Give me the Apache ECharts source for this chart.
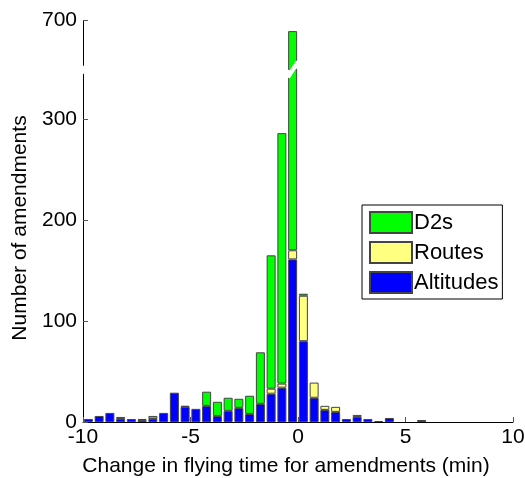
<!DOCTYPE html>
<html>
<head>
<meta charset="utf-8">
<script src="https://cdn.jsdelivr.net/npm/echarts@6/dist/echarts.min.js"></script>
<style>
  html, body { margin: 0; padding: 0; background: #fff; }
  #chart { width: 525px; height: 478px; }
</style>
</head>
<body>
<div id="chart"></div>
<script>
// bin centres (0.5 min bins from -10 to 10)
var binCenters = [-9.75, -9.25, -8.75, -8.25, -7.75, -7.25, -6.75, -6.25, -5.75, -5.25,
  -4.75, -4.25, -3.75, -3.25, -2.75, -2.25, -1.75, -1.25, -0.75, -0.25,
  0.25, 0.75, 1.25, 1.75, 2.25, 2.75, 3.25, 3.75, 4.25, 4.75,
  5.25, 5.75, 6.25, 6.75, 7.25, 7.75, 8.25, 8.75, 9.25, 9.75]
var altitudes = [3, 6, 9, 3, 3, 2, 3, 9, 29, 15,
  13, 16, 6, 11, 14, 8, 18, 28, 34, 161,
  80, 24, 12, 10, 3, 5, 3, 1, 4, 0,
  0, 2, 0, 0, 0, 0, 0, 0, 0, 0]
var routes = [0, 0, 0, 0, 0, 0, 0, 0, 0, 0,
  0, 0, 0, 0, 0, 0, 0, 5, 4, 9,
  45, 15, 4, 5, 0, 2, 0, 0, 0, 0,
  0, 0, 0, 0, 0, 0, 0, 0, 0, 0]
var d2s = [0, 0, 0, 2, 0, 1, 3, 0, 0, 1,
  0, 14, 14, 13, 9, 18, 51, 132, 248, 519,
  2, 0, 0, 0, 0, 0, 0, 0, 0, 0,
  0, 0, 0, 0, 0, 0, 0, 0, 0, 0]
var yTicks = [0, 100, 200, 300, 700]
var xTicks = [-10, -5, 0, 5, 10]

var font = 'Arial, "Liberation Sans", sans-serif'

function barSeries (name, vals, color) {
  return {
    name: name,
    type: 'bar',
    stack: 'total',
    xAxisIndex: 0,
    barWidth: 9,
    itemStyle: {
      color: color,
      borderColor: '#444',
      borderWidth: 1
    },
    data: vals.map(function (v) { return v === 0 ? '-' : v })
  }
}

var chart = echarts.init(document.getElementById('chart'))
chart.setOption({
  animation: false,
  grid: {
    left: 83,
    right: 12,
    top: 20,
    bottom: 56,
    outerBoundsMode: 'none'
  },
  legend: {
    orient: 'vertical',
    left: 362,
    top: 205,
    data: ['D2s', 'Routes', 'Altitudes'],
    icon: 'rect',
    itemWidth: 42,
    itemHeight: 21,
    itemGap: 7,
    padding: [6, 4, 5, 7],
    borderColor: '#000',
    borderWidth: 1,
    backgroundColor: '#fff',
    textStyle: {
      color: '#000',
      fontSize: 22,
      fontFamily: font,
      padding: [0, 0, 0, -3]
    }
  },
  xAxis: [{
    // bins, carries the bars
    type: 'category',
    data: binCenters,
    boundaryGap: true,
    show: false
  }, {
    // time scale, carries ticks and labels
    type: 'value',
    position: 'bottom',
    min: -10,
    max: 10,
    interval: 5,
    name: 'Change in flying time for amendments (min)',
    nameLocation: 'middle',
    nameGap: 34,
    nameTextStyle: {
      color: '#000',
      fontSize: 21,
      fontFamily: font,
      padding: [0, 24, 0, 0]
    },
    axisLine: { show: true, onZero: false, lineStyle: { color: '#000' } },
    axisTick: { show: true, inside: true, length: 5, lineStyle: { color: '#555' }, customValues: xTicks },
    axisLabel: { color: '#000', fontSize: 21, fontFamily: font, margin: 5, customValues: xTicks },
    splitLine: { show: false }
  }],
  yAxis: {
    type: 'value',
    min: 0,
    max: 700,
    breaks: [{ start: 345, end: 655, gap: 8 }],
    breakArea: {
      show: true,
      itemStyle: { color: '#fff', borderWidth: 0, opacity: 1 },
      zigzagAmplitude: 5
    },
    name: 'Number of amendments',
    nameLocation: 'middle',
    nameGap: 51,
    nameTextStyle: {
      color: '#000',
      fontSize: 21,
      fontFamily: font,
      padding: [0, 14, 0, 0]
    },
    axisLine: { show: true, onZero: false, lineStyle: { color: '#000' } },
    axisTick: { show: true, inside: true, length: 5, lineStyle: { color: '#555' }, customValues: yTicks },
    axisLabel: { color: '#000', fontSize: 21, fontFamily: font, margin: 6, customValues: yTicks },
    splitLine: { show: false }
  },
  series: [
    barSeries('Altitudes', altitudes, '#0000ff'),
    barSeries('Routes', routes, '#ffff80'),
    barSeries('D2s', d2s, '#00ff00')
  ]
})
</script>
</body>
</html>
